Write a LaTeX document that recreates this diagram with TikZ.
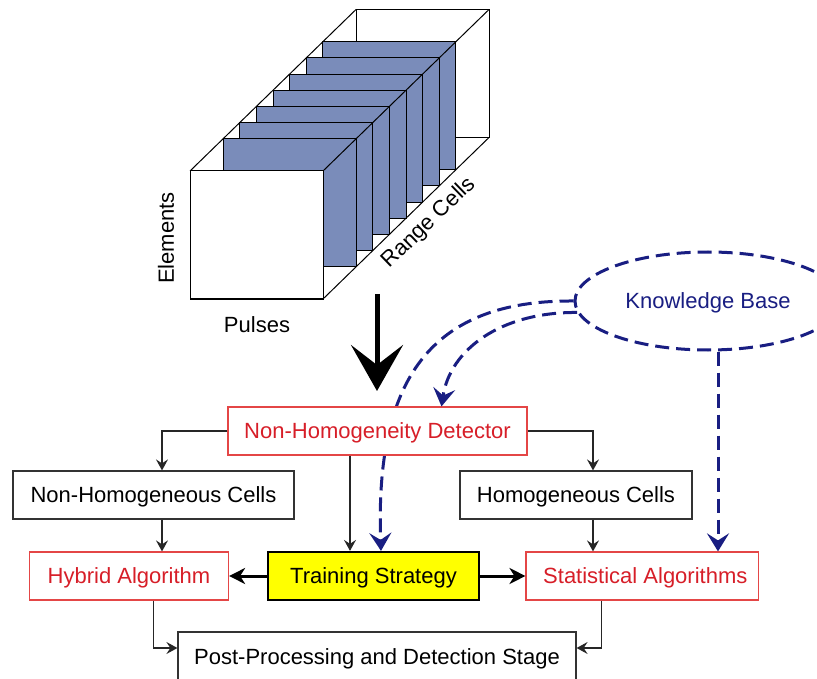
\documentclass[tikz,border=0pt]{standalone}
\usepackage{fontspec}
\setmainfont{Liberation Sans}
\usetikzlibrary{arrows.meta,backgrounds,shapes.geometric}
\definecolor{platec}{RGB}{122,140,186}
\definecolor{navyc}{RGB}{25,30,130}
\definecolor{redtxt}{RGB}{215,30,40}
\definecolor{redbrd}{RGB}{228,70,70}
\definecolor{yel}{RGB}{255,255,0}
\begin{document}
\begin{tikzpicture}[x=1pt,y=-1pt,
  font=\fontsize{22}{26}\selectfont,
  box/.style={draw=black!80, line width=1.2pt, fill=white, minimum height=48pt, inner sep=0pt, text depth=0pt},
  rbox/.style={box, draw=redbrd, text=redtxt},
  thinarr/.style={draw=black!85, line width=1.2pt, -{Stealth[length=11pt,width=12pt,inset=4pt]}},
  thickarr/.style={line width=3pt, -{Stealth[length=16pt,width=16pt,inset=5pt]}},
  kbline/.style={draw=navyc, line width=3pt, dash pattern=on 14pt off 7pt},
  kbarr/.style={kbline, -{Stealth[length=18pt,width=22pt,inset=7pt]}},
  cube/.style={draw=black, line width=1pt},
  lbl/.style={inner sep=0pt}
]
\useasboundingbox (0,0) rectangle (817,679);
\begin{pgfonlayer}{background}
\fill[white] (0,0) rectangle (817,679);
\end{pgfonlayer}

% ---- data cube ----
\draw[cube, fill=white] (356,9.5) rectangle ++(133,128);
\foreach \s in {8,7,...,2}
  \draw[cube, fill=platec] ({190+16.6*\s},{171-16.15*\s}) rectangle ++(133,128);
\draw[cube, fill=white] (190,171) rectangle ++(133,128);
\draw[cube] (190,171) -- (356,9.5);
\draw[cube] (323,171) -- (489,9.5);
\draw[cube] (323,299) -- (489,137.5);

\node[lbl, rotate=90] (elem) at (166,238) {Elements};
\node[lbl] (puls) at (257,325) {Pulses};
\node[lbl, rotate=44] (rcells) at (429,223) {Range Cells};

% ---- big arrow ----
\coordinate (bigtop) at (377,294);
\coordinate (bigtip) at (377,391);
\draw[line width=5pt, -{Stealth[length=46pt,width=52pt,inset=20pt]}] (bigtop) -- (bigtip);

% ---- nodes ----
\node[rbox, minimum width=299pt] (nhd) at (377.5,431) {Non-Homogeneity Detector};
\node[box, minimum width=281pt] (nhc) at (153.5,495) {Non-Homogeneous Cells};
\node[box, minimum width=232pt] (hc) at (576,495) {Homogeneous Cells};
\node[rbox, minimum width=199pt] (hyb) at (129,576) {Hybrid Algorithm};
\node[box, draw=black, line width=2.2pt, fill=yel, minimum width=211pt] (ts) at (373.5,576) {Training Strategy};
\node[rbox, minimum width=232.5pt] (stat) at (642.3,576) {\hspace*{6pt}Statistical Algorithms};
\node[box, minimum width=398pt, minimum height=50pt] (pp) at (377,657) {Post-Processing and Detection Stage};

\node[ellipse, kbline, minimum width=266pt, minimum height=98pt, inner sep=0pt, text depth=0pt, text=navyc, fill=white] (kb) at (708,301) {Knowledge Base};

% ---- thin connectors ----
\coordinate (c1) at (162,0);
\coordinate (c2) at (593,0);
\coordinate (c3) at (350,0);
\coordinate (c4) at (153.5,0);
\coordinate (c5) at (601.5,0);
\coordinate (c6) at (718,0);
\draw[thinarr] (nhd.west) -| (c1 |- nhc.north);
\draw[thinarr] (nhd.east) -| (c2 |- hc.north);
\draw[thinarr] (c3 |- nhd.south) -- (c3 |- ts.north);
\draw[thinarr] (c1 |- nhc.south) -- (c1 |- hyb.north);
\draw[thinarr] (c2 |- hc.south) -- (c2 |- stat.north);
\draw[thinarr] (c4 |- hyb.south) |- ([yshift=9pt]pp.west);
\draw[thinarr] (c5 |- stat.south) |- ([yshift=9pt]pp.east);

% ---- thick connectors ----
\draw[thickarr] (ts.west) -- (hyb.east);
\draw[thickarr] (ts.east) -- (stat.west);

% ---- knowledge base connectors ----
\begin{pgfonlayer}{background}
\draw[kbarr] (kb.west) .. controls (430,300) and (375,380) .. ([xshift=7.5pt]ts.north);
\end{pgfonlayer}
\draw[kbarr] (kb.185) .. controls (500,312) and (450,350) .. ([xshift=64pt]nhd.north);
\draw[kbarr] (c6 |- kb.south) -- (c6 |- stat.north);
\end{tikzpicture}
\end{document}
